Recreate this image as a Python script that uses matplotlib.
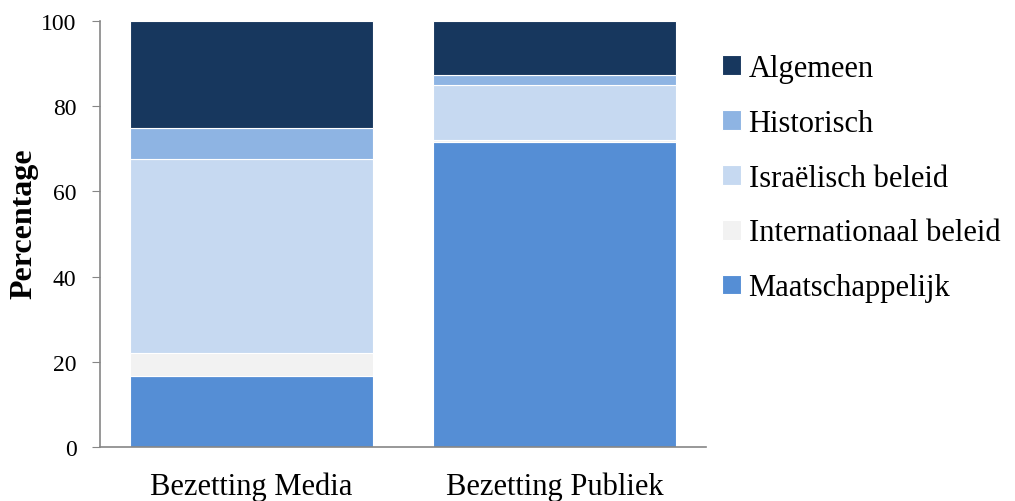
import matplotlib
matplotlib.use("Agg")
import matplotlib.pyplot as plt
import numpy as np

categories = ["Bezetting Media", "Bezetting Publiek"]
series_names = ["Maatschappelijk", "Internationaal beleid", "Israëlisch beleid", "Historisch", "Algemeen"]
maatschappelijk = [16.7, 71.6]
internationaal = [5.4, 0.4]
israelisch = [45.5, 13.0]
historisch = [7.3, 2.3]
algemeen = [25.1, 12.7]
colors = ["#558ED5", "#F2F2F2", "#C6D9F1", "#8EB4E3", "#17375E"]
yticks = [0, 20, 40, 60, 80, 100]

plt.rcParams['font.family'] = ['Liberation Serif', 'DejaVu Serif']

fig = plt.figure(figsize=(10.15, 5.02), dpi=100)
ax = fig.add_axes([100/1015, 54/502, 606/1015, 426/502])

data = [maatschappelijk, internationaal, israelisch, historisch, algemeen]
x = np.arange(len(categories))
bottom = np.zeros(len(categories))
handles = []
for name, vals, c in zip(series_names, data, colors):
    b = ax.bar(x, vals, 0.8, bottom=bottom, color=c, edgecolor="white", linewidth=0.8, label=name)
    handles.append(b)
    bottom += np.array(vals)

ax.set_xlim(-0.5, 1.5)
ax.set_ylim(0, 100)
ax.set_yticks(yticks)
ax.set_yticklabels([str(t) for t in yticks], fontsize=17)
ax.set_xticks(x)
ax.set_xticklabels(categories, fontsize=22)
ax.tick_params(axis='x', length=0, pad=18)
ax.tick_params(axis='y', length=6, color="#868686", pad=11, direction='out')
for s in ["top", "right"]:
    ax.spines[s].set_visible(False)
for s in ["left", "bottom"]:
    ax.spines[s].set_color("#868686")
    ax.spines[s].set_linewidth(1.2)
ax.set_ylabel("Percentage", fontsize=23, fontweight="bold")
ax.yaxis.set_label_coords(-62/606, 0.526)

leg = fig.legend(handles[::-1], series_names[::-1], loc="upper left",
                 bbox_to_anchor=(722/1015, 1 - 55/502), frameon=False,
                 fontsize=22, handlelength=0.62, handleheight=0.62,
                 labelspacing=0.845, handletextpad=0.25, borderpad=0,
                 borderaxespad=0)

fig.savefig("out.png", dpi=100)
